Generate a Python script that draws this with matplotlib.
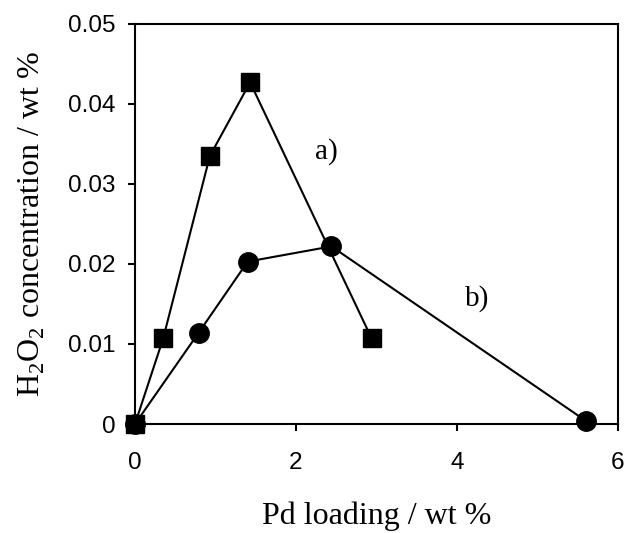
import matplotlib
matplotlib.use("Agg")
import matplotlib.pyplot as plt

# series a) squares
pd_a = [0, 0.35, 0.93, 1.43, 2.94]
h2o2_a = [0, 0.0107, 0.0335, 0.0427, 0.0107]
# series b) circles
pd_b = [0, 0.79, 1.40, 2.44, 5.60]
h2o2_b = [0, 0.0114, 0.0203, 0.0222, 0.0004]

xticks = [0, 2, 4, 6]
yticks = [0, 0.01, 0.02, 0.03, 0.04, 0.05]
ytick_labels = ["0", "0.01", "0.02", "0.03", "0.04", "0.05"]

plt.rcParams['mathtext.fontset'] = 'custom'
plt.rcParams['mathtext.rm'] = 'Liberation Serif'

fig = plt.figure(figsize=(6.28, 5.33), dpi=100)
ax = fig.add_axes([0.215, 0.2045, 0.769, 0.7505])

ax.plot(pd_a, h2o2_a, color='black', lw=1.5, marker='s', ms=12.5,
        clip_on=False, zorder=3)
ax.plot(pd_b, h2o2_b, color='black', lw=1.5, marker='o', ms=14,
        clip_on=False, zorder=4)

ax.text(2.38, 0.034, "a)", family='Liberation Serif', fontsize=21,
        ha='center', va='center')
ax.text(4.25, 0.0157, "b)", family='Liberation Serif', fontsize=21,
        ha='center', va='center')

ax.set_xlim(0, 6)
ax.set_ylim(0, 0.05)
ax.set_xticks(xticks)
ax.set_xticklabels([str(t) for t in xticks])
ax.set_yticks(yticks)
ax.set_yticklabels(ytick_labels)

for lab in ax.get_xticklabels() + ax.get_yticklabels():
    lab.set_family('Liberation Sans')
    lab.set_fontsize(17.5)

ax.tick_params(axis='y', direction='out', length=5, width=1.5, pad=9)
ax.tick_params(axis='x', direction='out', length=5, width=1.5, pad=15)
for s in ax.spines.values():
    s.set_linewidth(1.5)

ax.set_xlabel("Pd loading / wt %", family='Liberation Serif', fontsize=23,
              labelpad=20)
ax.set_ylabel(r"H$_\mathrm{2}$O$_\mathrm{2}$ concentration / wt %",
              family='Liberation Serif', fontsize=23, labelpad=15)

fig.savefig("out.png", dpi=100)
